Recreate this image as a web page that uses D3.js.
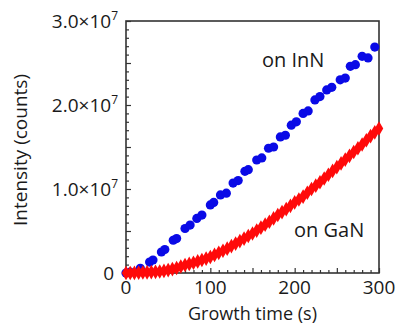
<!DOCTYPE html>
<html><head><meta charset="utf-8">
<script src="https://cdn.jsdelivr.net/npm/d3@7"></script>
<style>body{margin:0;background:#fff}svg{display:block}</style>
</head><body>
<script>
// Data (intensity in units of 1e7 counts)
const inN_time = [0, 5, 17, 28, 32, 42, 46, 56, 60, 70, 76, 84, 90, 100, 104, 112, 119, 127, 133, 141, 145, 155, 161, 169, 175, 183, 189, 196, 202, 210, 216, 224, 230, 238, 244, 254, 260, 266, 272, 280, 287, 295];
const inN_val  = [0.00, 0.01, 0.056, 0.13, 0.155, 0.25, 0.28, 0.39, 0.41, 0.53, 0.57, 0.65, 0.69, 0.81, 0.84, 0.93, 0.95, 1.07, 1.10, 1.21, 1.23, 1.345, 1.37, 1.485, 1.50, 1.62, 1.64, 1.76, 1.80, 1.90, 1.93, 2.06, 2.10, 2.18, 2.21, 2.30, 2.32, 2.46, 2.48, 2.58, 2.56, 2.69];
const gaN_time = [0,5,10,15,20,25,30,35,40,45,50,55,60,65,70,75,80,85,90,95,100,105,110,115,120,125,130,135,140,145,150,155,160,165,170,175,180,185,190,195,200,205,210,215,220,225,230,235,240,245,250,255,260,265,270,275,280,285,290,295,300];
const gaN_val  = [0.000,0.000,0.002,0.004,0.006,0.008,0.011,0.014,0.018,0.025,0.035,0.047,0.060,0.077,0.095,0.108,0.122,0.138,0.155,0.172,0.190,0.215,0.240,0.265,0.290,0.320,0.350,0.380,0.410,0.440,0.470,0.505,0.540,0.575,0.610,0.650,0.690,0.725,0.760,0.800,0.840,0.875,0.910,0.955,1.000,1.040,1.080,1.125,1.170,1.215,1.260,1.305,1.350,1.395,1.440,1.485,1.530,1.580,1.630,1.675,1.720];
const xTicks = [0, 100, 200, 300];
const xTickLabels = ["0", "100", "200", "300"];
const yTicks = [0, 1, 2, 3];
const yTickLabels = ["0", "1.0\u00d710", "2.0\u00d710", "3.0\u00d710"];
const yTickExp = ["", "7", "7", "7"];
const seriesLabels = ["on InN", "on GaN"];

const W = 398, H = 324;
const font = "'Open Sans', sans-serif";
const txt = "#1a1a1a";
const svg = d3.select("body").append("svg").attr("width", W).attr("height", H);
const x = d3.scaleLinear().domain([0, 300]).range([126, 379]);
const y = d3.scaleLinear().domain([0, 3]).range([273, 21]);
const axisColor = "#333";

// frame
svg.append("rect").attr("x", x(0)).attr("y", y(3)).attr("width", x(300) - x(0)).attr("height", y(0) - y(3))
  .attr("fill", "none").attr("stroke", axisColor).attr("stroke-width", 1.6);

// x minor/major ticks (inward)
const xt = d3.range(0, 301, 10);
svg.append("g").attr("transform", `translate(0,${y(0)})`)
  .call(d3.axisBottom(x).tickValues(xt).tickSizeInner(-3).tickSizeOuter(0).tickFormat(""))
  .call(g => g.select(".domain").remove())
  .call(g => g.selectAll(".tick line").attr("stroke", axisColor).attr("stroke-width", 1.2)
     .attr("y2", d => d % 50 === 0 ? -5 : -3));
const yt = d3.range(0, 31).map(d => d / 10);
svg.append("g").attr("transform", `translate(${x(0)},0)`)
  .call(d3.axisLeft(y).tickValues(yt).tickSizeInner(-3).tickSizeOuter(0).tickFormat(""))
  .call(g => g.select(".domain").remove())
  .call(g => g.selectAll(".tick line").attr("stroke", axisColor).attr("stroke-width", 1.2)
     .attr("x2", d => Math.round(d * 10) % 5 === 0 ? 5 : 3));

// tick labels
svg.append("g").selectAll("text").data(xTicks).join("text")
  .attr("x", d => x(d)).attr("y", 294).attr("text-anchor", "middle")
  .attr("font-family", font).attr("font-size", 19).attr("fill", txt)
  .text((d, i) => xTickLabels[i]);
const yl = svg.append("g").selectAll("text").data(yTicks).join("text")
  .attr("x", (d, i) => yTickExp[i] ? 118 : 114).attr("y", d => y(d) + 7).attr("text-anchor", "end")
  .attr("font-family", font).attr("font-size", 19).attr("fill", txt);
yl.append("tspan").text((d, i) => yTickLabels[i]);
yl.append("tspan").attr("dy", -8).attr("font-size", 12).text((d, i) => yTickExp[i]);

// axis titles
svg.append("text").attr("x", x(150)).attr("y", 320).attr("text-anchor", "middle")
  .attr("font-family", font).attr("font-size", 18).attr("fill", txt).text("Growth time (s)");
svg.append("text").attr("transform", `translate(27,150) rotate(-90)`).attr("text-anchor", "middle")
  .attr("font-family", font).attr("font-size", 19).attr("fill", txt).text("Intensity (counts)");

// series
const inN = inN_time.map((t, i) => [t, inN_val[i]]);
const gaN = gaN_time.map((t, i) => [t, gaN_val[i]]);
svg.append("g").selectAll("circle").data(inN).join("circle")
  .attr("cx", d => x(d[0])).attr("cy", d => y(d[1])).attr("r", 4.6).attr("fill", "#0a0ae6");
const dia = d3.symbol().type(d3.symbolDiamond).size(62);
svg.append("g").selectAll("path").data(gaN).join("path")
  .attr("transform", d => `translate(${x(d[0])},${y(d[1])})`).attr("d", dia).attr("fill", "#ff0a0a");

// series labels
svg.append("text").attr("x", 262).attr("y", 67).attr("font-family", font).attr("font-size", 20).attr("fill", txt).text(seriesLabels[0]);
svg.append("text").attr("x", 294).attr("y", 237).attr("font-family", font).attr("font-size", 20).attr("fill", txt).text(seriesLabels[1]);
</script>
</body></html>
